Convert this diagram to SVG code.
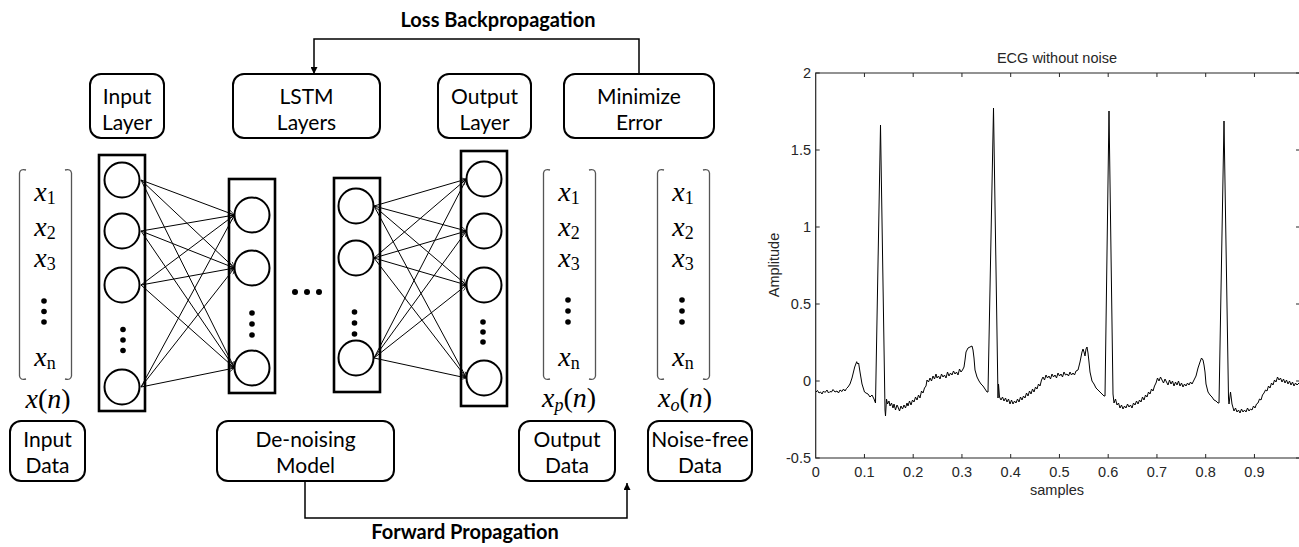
<svg xmlns="http://www.w3.org/2000/svg" width="1299" height="547" viewBox="0 0 1299 547">
  <style>
    .box { fill: #fff; stroke: #000; stroke-width: 2; }
    .lbl { font-family: Lato, "Liberation Sans", sans-serif; font-size: 21px; fill: #000; text-anchor: middle; }
    .bold { font-family: Lato, "Liberation Sans", sans-serif; font-size: 20px; font-weight: bold; fill: #000; text-anchor: middle; }
    .layer { fill: none; stroke: #000; stroke-width: 2.6; }
    .neuron { fill: #fff; stroke: #000; stroke-width: 2; }
    .dot { fill: #000; }
    .edge { fill: none; stroke: #000; stroke-width: 1; marker-end: url(#vArrow); }
    .flow { fill: none; stroke: #000; stroke-width: 1.5; marker-end: url(#solidArrow); }
    .brk { fill: none; stroke: #555; stroke-width: 1.3; }
    .m { font-family: "Liberation Serif", serif; font-size: 28px; fill: #000; text-anchor: middle; }
    .it { font-style: italic; }
    .sub { font-size: 18px; }
    .ax { stroke: #262626; stroke-width: 1.2; fill: none; }
    .tk { stroke: #262626; stroke-width: 1; }
    .ct { font-family: "Liberation Sans", Arial, sans-serif; font-size: 14.5px; fill: #262626; }
  </style>
  <defs>
    <marker id="solidArrow" viewBox="0 0 10 10" refX="10" refY="5" markerUnits="userSpaceOnUse" markerWidth="7" markerHeight="7" orient="auto">
      <path d="M0,0 L10,5 L0,10 z" fill="#000"/>
    </marker>
    <marker id="vArrow" viewBox="0 0 10 10" refX="10" refY="5" markerUnits="userSpaceOnUse" markerWidth="8" markerHeight="6" orient="auto">
      <path d="M0,0 L10,5 L0,10" fill="none" stroke="#000" stroke-width="1.2"/>
    </marker>
  </defs>
  <rect width="1299" height="547" fill="#fff"/>

  <!-- propagation labels -->
  <text class="bold" x="498" y="27">Loss Backpropagation</text>
  <text class="bold" x="465" y="539">Forward Propagation</text>

  <!-- connectors -->
  <g id="connectors">
    <path class="flow" d="M639,74 V39 H314 V74"/>
    <path class="flow" d="M305,481 V518 H627 V483"/>
    <!-- input layer to first LSTM layer -->
    <g id="edges-in">
      <line class="edge" x1="141" y1="180" x2="234.5" y2="215"/>
      <line class="edge" x1="141" y1="180" x2="234.5" y2="268"/>
      <line class="edge" x1="141" y1="180" x2="234.5" y2="368"/>
      <line class="edge" x1="141" y1="231" x2="234.5" y2="215"/>
      <line class="edge" x1="141" y1="231" x2="234.5" y2="268"/>
      <line class="edge" x1="141" y1="231" x2="234.5" y2="368"/>
      <line class="edge" x1="141" y1="285" x2="234.5" y2="215"/>
      <line class="edge" x1="141" y1="285" x2="234.5" y2="268"/>
      <line class="edge" x1="141" y1="285" x2="234.5" y2="368"/>
      <line class="edge" x1="141" y1="387" x2="234.5" y2="215"/>
      <line class="edge" x1="141" y1="387" x2="234.5" y2="268"/>
      <line class="edge" x1="141" y1="387" x2="234.5" y2="368"/>
    </g>
    <!-- last LSTM layer to output layer -->
    <g id="edges-out">
      <line class="edge" x1="374" y1="206" x2="466.5" y2="179"/>
      <line class="edge" x1="374" y1="206" x2="466.5" y2="231"/>
      <line class="edge" x1="374" y1="206" x2="466.5" y2="285"/>
      <line class="edge" x1="374" y1="206" x2="466.5" y2="378"/>
      <line class="edge" x1="374" y1="258" x2="466.5" y2="179"/>
      <line class="edge" x1="374" y1="258" x2="466.5" y2="231"/>
      <line class="edge" x1="374" y1="258" x2="466.5" y2="285"/>
      <line class="edge" x1="374" y1="258" x2="466.5" y2="378"/>
      <line class="edge" x1="374" y1="358" x2="466.5" y2="179"/>
      <line class="edge" x1="374" y1="358" x2="466.5" y2="231"/>
      <line class="edge" x1="374" y1="358" x2="466.5" y2="285"/>
      <line class="edge" x1="374" y1="358" x2="466.5" y2="378"/>
    </g>
  </g>

  <!-- top labels -->
  <g id="input-layer-label">
    <rect class="box" x="90" y="74" width="74" height="64" rx="11"/>
    <text class="lbl" x="127" y="104">Input</text>
    <text class="lbl" x="127" y="130">Layer</text>
  </g>
  <g id="lstm-label">
    <rect class="box" x="233" y="74" width="147" height="64" rx="11"/>
    <text class="lbl" x="306.5" y="104">LSTM</text>
    <text class="lbl" x="306.5" y="130">Layers</text>
  </g>
  <g id="output-layer-label">
    <rect class="box" x="438" y="74" width="93" height="64" rx="11"/>
    <text class="lbl" x="484.5" y="104">Output</text>
    <text class="lbl" x="484.5" y="130">Layer</text>
  </g>
  <g id="minimize-error">
    <rect class="box" x="564" y="74" width="150" height="64" rx="11"/>
    <text class="lbl" x="639" y="104">Minimize</text>
    <text class="lbl" x="639" y="130">Error</text>
  </g>

  <!-- input vector -->
  <g id="input-vector">
    <path class="brk" d="M26,170 C22,169 20,170 19.5,173 V376 C20,379 22,380 26,379"/>
    <path class="brk" d="M65,170 C69,169 71,170 71.5,173 V376 C71,379 69,380 65,379"/>
    <text class="m" x="45" y="201"><tspan class="it">x</tspan><tspan class="sub" dy="3">1</tspan></text>
    <text class="m" x="45" y="236"><tspan class="it">x</tspan><tspan class="sub" dy="3">2</tspan></text>
    <text class="m" x="45" y="267"><tspan class="it">x</tspan><tspan class="sub" dy="3">3</tspan></text>
    <circle class="dot" cx="44" cy="301" r="2.8"/>
    <circle class="dot" cx="44" cy="311.5" r="2.8"/>
    <circle class="dot" cx="44" cy="322" r="2.8"/>
    <text class="m" x="45" y="366"><tspan class="it">x</tspan><tspan class="sub" dy="3">n</tspan></text>
    <text class="m" x="48" y="408"><tspan class="it">x</tspan>(<tspan class="it">n</tspan>)</text>
  </g>

  <!-- input layer -->
  <g id="input-layer">
    <rect class="layer" x="99" y="155" width="46" height="256"/>
    <circle class="neuron" cx="122" cy="180" r="17.5"/>
    <circle class="neuron" cx="122" cy="231" r="17.5"/>
    <circle class="neuron" cx="122" cy="285" r="17.5"/>
    <circle class="dot" cx="123" cy="329.5" r="2.8"/>
    <circle class="dot" cx="123" cy="340" r="2.8"/>
    <circle class="dot" cx="123" cy="350.5" r="2.8"/>
    <circle class="neuron" cx="122" cy="387" r="17.5"/>
  </g>

  <!-- first LSTM layer -->
  <g id="lstm-layer-1">
    <rect class="layer" x="229" y="179" width="46" height="214"/>
    <circle class="neuron" cx="252" cy="215" r="17.5"/>
    <circle class="neuron" cx="252" cy="268" r="17.5"/>
    <circle class="dot" cx="252" cy="313" r="2.8"/>
    <circle class="dot" cx="252" cy="324" r="2.8"/>
    <circle class="dot" cx="252" cy="335" r="2.8"/>
    <circle class="neuron" cx="252" cy="368" r="17.5"/>
  </g>

  <!-- horizontal ellipsis between LSTM layers -->
  <g id="ellipsis">
    <circle class="dot" cx="295" cy="292" r="3"/>
    <circle class="dot" cx="307" cy="292" r="3"/>
    <circle class="dot" cx="319" cy="292" r="3"/>
  </g>

  <!-- last LSTM layer -->
  <g id="lstm-layer-n">
    <rect class="layer" x="334" y="178" width="46" height="214"/>
    <circle class="neuron" cx="356" cy="206" r="17.5"/>
    <circle class="neuron" cx="356" cy="258" r="17.5"/>
    <circle class="dot" cx="354.5" cy="312" r="2.8"/>
    <circle class="dot" cx="354.5" cy="323" r="2.8"/>
    <circle class="dot" cx="354.5" cy="334" r="2.8"/>
    <circle class="neuron" cx="356" cy="358" r="17.5"/>
  </g>

  <!-- output layer -->
  <g id="output-layer">
    <rect class="layer" x="461" y="151" width="46" height="255"/>
    <circle class="neuron" cx="484" cy="179" r="17.5"/>
    <circle class="neuron" cx="484" cy="231" r="17.5"/>
    <circle class="neuron" cx="484" cy="285" r="17.5"/>
    <circle class="dot" cx="483" cy="322" r="2.8"/>
    <circle class="dot" cx="483" cy="332" r="2.8"/>
    <circle class="dot" cx="483" cy="342" r="2.8"/>
    <circle class="neuron" cx="484" cy="378" r="17.5"/>
  </g>

  <!-- predicted output vector -->
  <g id="output-vector">
    <path class="brk" d="M550,170 C546,169 544,170 543.5,173 V376 C544,379 546,380 550,379"/>
    <path class="brk" d="M589,170 C593,169 595,170 595.5,173 V376 C595,379 593,380 589,379"/>
    <text class="m" x="569" y="201"><tspan class="it">x</tspan><tspan class="sub" dy="3">1</tspan></text>
    <text class="m" x="569" y="236"><tspan class="it">x</tspan><tspan class="sub" dy="3">2</tspan></text>
    <text class="m" x="569" y="267"><tspan class="it">x</tspan><tspan class="sub" dy="3">3</tspan></text>
    <circle class="dot" cx="568" cy="300" r="2.8"/>
    <circle class="dot" cx="568" cy="311" r="2.8"/>
    <circle class="dot" cx="568" cy="322" r="2.8"/>
    <text class="m" x="569" y="366"><tspan class="it">x</tspan><tspan class="sub" dy="3">n</tspan></text>
    <text class="m" x="569" y="407"><tspan class="it">x</tspan><tspan class="sub it" dy="4">p</tspan><tspan dy="-4">(</tspan><tspan class="it">n</tspan>)</text>
  </g>

  <!-- clean reference vector -->
  <g id="clean-vector">
    <path class="brk" d="M664,170 C660,169 658,170 657.5,173 V376 C658,379 660,380 664,379"/>
    <path class="brk" d="M703,170 C707,169 709,170 709.5,173 V376 C709,379 707,380 703,379"/>
    <text class="m" x="683" y="201"><tspan class="it">x</tspan><tspan class="sub" dy="3">1</tspan></text>
    <text class="m" x="683" y="236"><tspan class="it">x</tspan><tspan class="sub" dy="3">2</tspan></text>
    <text class="m" x="683" y="267"><tspan class="it">x</tspan><tspan class="sub" dy="3">3</tspan></text>
    <circle class="dot" cx="682" cy="300" r="2.8"/>
    <circle class="dot" cx="682" cy="311" r="2.8"/>
    <circle class="dot" cx="682" cy="322" r="2.8"/>
    <text class="m" x="683" y="366"><tspan class="it">x</tspan><tspan class="sub" dy="3">n</tspan></text>
    <text class="m" x="685" y="407"><tspan class="it">x</tspan><tspan class="sub it" dy="4">o</tspan><tspan dy="-4">(</tspan><tspan class="it">n</tspan>)</text>
  </g>

  <!-- bottom labels -->
  <g id="input-data">
    <rect class="box" x="10" y="421" width="75" height="60" rx="11"/>
    <text class="lbl" x="47.5" y="447">Input</text>
    <text class="lbl" x="47.5" y="473">Data</text>
  </g>
  <g id="denoising-model">
    <rect class="box" x="217" y="421" width="177" height="60" rx="11"/>
    <text class="lbl" x="305.5" y="447">De-noising</text>
    <text class="lbl" x="305.5" y="473">Model</text>
  </g>
  <g id="output-data">
    <rect class="box" x="519" y="421" width="96" height="60" rx="11"/>
    <text class="lbl" x="567" y="447">Output</text>
    <text class="lbl" x="567" y="473">Data</text>
  </g>
  <g id="noise-free-data">
    <rect class="box" x="648" y="421" width="104" height="60" rx="11"/>
    <text class="lbl" x="700" y="447">Noise-free</text>
    <text class="lbl" x="700" y="473">Data</text>
  </g>

  <!-- ECG plot -->
  <g id="chart">
    <text class="ct" x="1057" y="63" text-anchor="middle">ECG without noise</text>
    <path class="ax" d="M1299,73 H815.7 V458 H1299"/>
    <!-- y ticks (left and right) -->
    <path class="tk" d="M815.7,73 h4 M815.7,150 h4 M815.7,227 h4 M815.7,304 h4 M815.7,381 h4 M815.7,458 h4
                        M1299,73 h-3 M1299,150 h-3 M1299,227 h-3 M1299,304 h-3 M1299,381 h-3 M1299,458 h-3"/>
    <!-- x ticks (top and bottom) -->
    <path class="tk" d="M864.45,73 v4 M913.2,73 v4 M961.95,73 v4 M1010.7,73 v4 M1059.45,73 v4 M1108.2,73 v4 M1156.95,73 v4 M1205.7,73 v4 M1254.45,73 v4
                        M864.45,458 v-4 M913.2,458 v-4 M961.95,458 v-4 M1010.7,458 v-4 M1059.45,458 v-4 M1108.2,458 v-4 M1156.95,458 v-4 M1205.7,458 v-4 M1254.45,458 v-4"/>
    <g text-anchor="end">
      <text class="ct" x="811" y="78">2</text>
      <text class="ct" x="811" y="155">1.5</text>
      <text class="ct" x="811" y="232">1</text>
      <text class="ct" x="811" y="309">0.5</text>
      <text class="ct" x="811" y="386">0</text>
      <text class="ct" x="811" y="463">-0.5</text>
    </g>
    <g text-anchor="middle">
      <text class="ct" x="815.7" y="477">0</text>
      <text class="ct" x="864.45" y="477">0.1</text>
      <text class="ct" x="913.2" y="477">0.2</text>
      <text class="ct" x="961.95" y="477">0.3</text>
      <text class="ct" x="1010.7" y="477">0.4</text>
      <text class="ct" x="1059.45" y="477">0.5</text>
      <text class="ct" x="1108.2" y="477">0.6</text>
      <text class="ct" x="1156.95" y="477">0.7</text>
      <text class="ct" x="1205.7" y="477">0.8</text>
      <text class="ct" x="1254.45" y="477">0.9</text>
    </g>
    <text class="ct" x="1057" y="495" text-anchor="middle">samples</text>
    <text class="ct" x="0" y="0" text-anchor="middle" transform="translate(779,265) rotate(-90)">Amplitude</text>
    <!-- ECG trace, data mapped as x = 815.7 + 487.5*t, y = 381 - 154*v -->
    <polyline fill="none" stroke="#000" stroke-width="1" stroke-linejoin="round" points="816,392 817.5,390.5 819,393 820.5,392 822,394 823.5,391 825,392.5 827,390 828.5,393 830,391.5 831.5,392 833,389.5 835,392 837,391 838.5,393 840,390 842,391.5 843.5,389 845,391 846.5,388.5 848,387 850,384 852,378 854.7,367 856.7,361.7 857.6,364 858.6,363 860,372 862,384 864.5,392 866,393 868,394 870,397 872,395 874,399 875.5,403 880.5,125 885,410 885.5,416 886.5,399 887.5,404 889,401 890,406 891.5,403 893,408 894,404 895.5,410 897,405 898,407 899.5,411 901,406 902.5,409 904,405 905.5,408 907,403 908,406 909.5,401 911,405 912.5,400 914,402 915.5,397 917,400 918.5,395 920,398 921.5,391 923,393 924.5,388 926,386 927,380 928.5,382 930,378 931.5,381 933,376 934.5,379 936,374 937,378 938.5,376 940,379 941.5,374 943,377 944.5,375 946,378 947.5,372 949,376 950.5,373 952,375 953.5,371 955,374 956.5,372 958,375 959.5,369 961,372 962.5,370 964,367 965,360 966,352 968,348 970,347 972,346 973,350 974,358 975,370 977,377 979,381 981,384 983,386 985,389 987,392 988,392 993.5,108 998,398 998.5,384 999.5,397 1001,400 1002.5,397 1004,401 1005.5,398 1007,402 1008.5,399 1010,404 1011.5,400 1013,404 1014.5,401 1016,403 1017.5,399 1019,402 1020.5,397 1022,400 1023.5,396 1025,398 1026.5,393 1028,396 1029.5,391 1031,394 1032.5,389 1034,392 1035.5,387 1037,389 1038.5,384 1040,386 1041.5,380 1043,377 1044.5,380 1046,375 1047.5,378 1049,376 1050.5,379 1052,374 1053.5,377 1055,375 1056.5,378 1058,373 1059.5,376 1061,374 1062.5,377 1064,372 1065.5,375 1067,374 1068.5,376 1070,372 1071.5,375 1073,373 1074.5,375 1076,371 1078,370 1080,362 1082,352 1083,349 1084,352 1085,356 1086,349 1087,347 1088,353 1089,362 1090,372 1092,381 1094,384 1096,388 1098,390 1100,392 1102,394 1104,396 1105,396 1109,111 1113,394 1114,403 1115.5,399 1117,405 1118.5,403 1120,408 1121.5,405 1123,409 1124.5,406 1126,408 1127.5,404 1129,407 1130.5,405 1132,408 1133.5,403 1135,405 1136.5,401 1138,404 1139.5,400 1141,402 1142.5,397 1144,400 1145.5,395 1147,397 1148.5,392 1150,394 1151.5,389 1153,391 1154.5,386 1156,383 1157.5,378 1159,381 1160.5,377 1162,380 1163.5,383 1165,379 1166.5,382 1168,385 1169.5,380 1171,384 1172.5,381 1174,386 1175.5,382 1177,385 1178.5,381 1180,386 1181.5,383 1183,387 1184.5,384 1186,386 1187.5,383 1189,385 1190.5,382 1192,384 1194,380 1196,376 1198,368 1200,362 1201.5,358 1203,360 1204,365 1205,372 1206,384 1208,392 1210,395 1212,397 1214,400 1216,401 1218,403 1219,403 1224,121 1228.5,398 1229,404 1230.5,392 1232,404 1234,411 1235.5,408 1237,412 1238.5,410 1240,413 1241.5,409 1243,412 1244.5,410 1246,412 1247.5,408 1249,411 1250.5,409 1252,410 1253.5,406 1255,408 1256.5,404 1258,403 1259.5,399 1261,400 1262.5,395 1264,393 1265.5,390 1267,391 1268.5,386 1270,388 1271.5,383 1273,385 1274.5,380 1276,382 1277.5,377 1279,380 1280.5,378 1282,382 1283.5,379 1285,383 1286.5,380 1288,384 1289.5,381 1291,385 1292.5,382 1294,386 1295.5,383 1297,385 1299,383"/>
  </g>
</svg>
